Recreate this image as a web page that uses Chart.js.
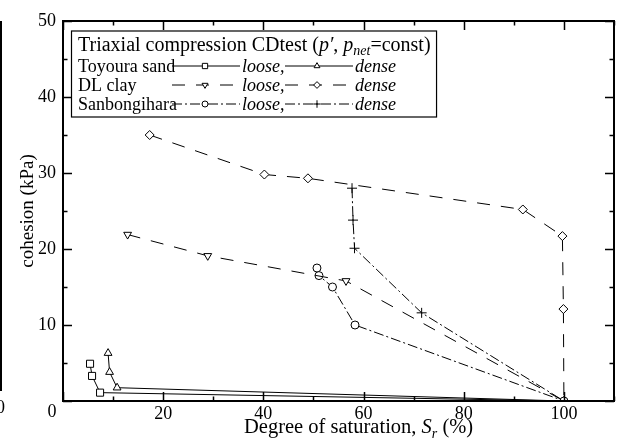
<!DOCTYPE html>
<html><head><meta charset="utf-8">
<script src="https://cdn.jsdelivr.net/npm/chart.js@4/dist/chart.umd.min.js"></script>
<style>html,body{margin:0;padding:0;background:#fff;}#wrap{width:620px;height:446px;position:relative;}</style>
</head><body><div id="wrap"><canvas id="c" width="620" height="446"></canvas></div>
<script>
const xTickLabels = [20, 40, 60, 80, 100];
const yTickLabels = [10, 20, 30, 40, 50];
const toyouraLooseSr = [5.4, 5.8, 7.4, 100];
const toyouraLooseC  = [4.9, 3.3, 1.1, 0];
const toyouraDenseSr = [9.0, 9.3, 10.8, 100];
const toyouraDenseC  = [6.3, 3.8, 1.75, 0];
const dlLooseSr = [12.9, 28.9, 56.5, 100];
const dlLooseC  = [21.9, 19.1, 15.8, 0];
const dlDenseSr = [17.3, 40.2, 48.9, 91.8, 99.7, 99.9, 100];
const dlDenseC  = [35.0, 29.8, 29.3, 25.2, 21.7, 12.1, 0];
const sbLooseSr = [50.7, 51.1, 53.8, 58.3, 100];
const sbLooseC  = [17.5, 16.5, 15.0, 10.0, 0];
const sbDenseSr = [57.7, 57.9, 58.2, 71.6, 100];
const sbDenseC  = [28.0, 23.8, 20.1, 11.6, 0];

const FONT = '"Liberation Serif", "Times New Roman", serif';
const pts = (xs, ys) => xs.map((x, i) => ({x: x, y: ys[i]}));
const hideLast = (r) => (c) => (c.dataIndex === c.dataset.data.length - 1 ? 0 : r);

function ds(label, xs, ys, style, radius, dash, rot, keepLast) {
  return {
    label: label, data: pts(xs, ys), showLine: true, tension: 0,
    borderColor: '#000', borderWidth: 1, borderDash: dash,
    pointStyle: style, pointRotation: rot || 0,
    pointRadius: keepLast ? radius : hideLast(radius),
    pointBackgroundColor: '#fff', pointBorderColor: '#000', pointBorderWidth: 1,
    legendRadius: radius * 0.75
  };
}
const DASH = [13, 11];
const DASHDOT = [10, 3, 2, 3];
const datasets = [
  ds('Toyoura loose', toyouraLooseSr, toyouraLooseC, 'rect', 5, [], 0, false),
  ds('Toyoura dense', toyouraDenseSr, toyouraDenseC, 'triangle', 4.5, [], 0, false),
  ds('DL loose', dlLooseSr, dlLooseC, 'triangle', 4.5, DASH, 180, false),
  ds('DL dense', dlDenseSr, dlDenseC, 'rectRot', 4.5, DASH, 0, false),
  ds('Sanbongihara loose', sbLooseSr, sbLooseC, 'circle', 4, DASHDOT, 0, true),
  ds('Sanbongihara dense', sbDenseSr, sbDenseC, 'cross', 5, DASHDOT, 0, true)
];

function drawRuns(ctx, x, y, runs, size) {
  let cx = x;
  runs.forEach(r => {
    const s = r.sub ? Math.round(size * 0.68) : size;
    ctx.font = (r.italic ? 'italic ' : '') + s + 'px ' + FONT;
    ctx.fillText(r.t, cx, y + (r.sub ? size * 0.22 : 0));
    cx += ctx.measureText(r.t).width;
  });
  return cx;
}

function sample(ctx, d, x1, x2, y, mx) {
  ctx.save();
  ctx.strokeStyle = '#000'; ctx.lineWidth = 1;
  ctx.setLineDash(d.borderDash || []);
  ctx.beginPath(); ctx.moveTo(x1, y); ctx.lineTo(x2, y); ctx.stroke();
  ctx.setLineDash([]);
  ctx.fillStyle = '#fff';
  Chart.helpers.drawPoint(ctx, {pointStyle: d.pointStyle, rotation: d.pointRotation, radius: d.legendRadius, borderWidth: 1}, mx, y);
  ctx.restore();
}

const framePlugin = {
  id: 'frame',
  afterDatasetsDraw(chart) {
    const ctx = chart.ctx, a = chart.chartArea;
    const xs = chart.scales.x, ys = chart.scales.y;
    ctx.save();
    ctx.strokeStyle = '#000';
    ctx.lineWidth = 1.5;
    xs.ticks.forEach(t => {
      const px = Math.round(xs.getPixelForValue(t.value)) + 0.5;
      const len = t.value % 20 === 0 ? 9 : 4.5;
      ctx.beginPath();
      ctx.moveTo(px, a.bottom); ctx.lineTo(px, a.bottom - len);
      ctx.moveTo(px, a.top); ctx.lineTo(px, a.top + len);
      ctx.stroke();
    });
    ys.ticks.forEach(t => {
      const py = Math.round(ys.getPixelForValue(t.value)) + 0.5;
      const len = t.value % 10 === 0 ? 9 : 4.5;
      ctx.beginPath();
      ctx.moveTo(a.left, py); ctx.lineTo(a.left + len, py);
      ctx.moveTo(a.right, py); ctx.lineTo(a.right - len, py);
      ctx.stroke();
    });
    ctx.lineWidth = 2;
    ctx.strokeRect(a.left, a.top, a.right - a.left, a.bottom - a.top);

    // legend
    const size = 18;
    ctx.fillStyle = '#000';
    ctx.textBaseline = 'alphabetic';
    ctx.textAlign = 'left';
    const lx = 78;
    const b = [51, 72, 91, 110];
    const titleRuns = [
      {t: 'Triaxial compression CDtest ('}, {t: 'p\u2032', italic: true}, {t: ', '},
      {t: 'p', italic: true}, {t: 'net', italic: true, sub: true}, {t: '=const)'}
    ];
    ctx.save(); ctx.globalAlpha = 0; const tEnd = drawRuns(ctx, lx, b[0], titleRuns, 20); ctx.restore();
    const boxL = 71.5, boxT = 31, boxR = tEnd + 6, boxB = 117;
    ctx.fillStyle = '#fff';
    ctx.fillRect(boxL, boxT, boxR - boxL, boxB - boxT);
    ctx.lineWidth = 1.2;
    ctx.strokeRect(boxL, boxT, boxR - boxL, boxB - boxT);
    ctx.fillStyle = '#000';
    drawRuns(ctx, lx, b[0], titleRuns, 20);
    const rows = [['Toyoura sand', 0, 1], ['DL clay', 2, 3], ['Sanbongihara', 4, 5]];
    rows.forEach((r, i) => {
      const y = b[i + 1];
      drawRuns(ctx, lx, y, [{t: r[0]}], size);
      const ly = y - 6;
      sample(ctx, datasets[r[1]], 172, 240, ly, 205);
      ctx.fillStyle = '#000';
      drawRuns(ctx, 242, y, [{t: 'loose,', italic: true}], size);
      sample(ctx, datasets[r[2]], 285, 353, ly, 317);
      ctx.fillStyle = '#000';
      drawRuns(ctx, 355, y, [{t: 'dense', italic: true}], size);
    });

    // axis titles
    drawRuns(ctx, 244, 433, [{t: 'Degree of saturation, '}, {t: 'S', italic: true}, {t: 'r', italic: true, sub: true}, {t: ' (%)'}], 20.5);
    ctx.save();
    ctx.translate(33, (a.top + a.bottom) / 2);
    ctx.rotate(-Math.PI / 2);
    ctx.textAlign = 'center';
    ctx.font = '19px ' + FONT;
    ctx.fillText('cohesion (kPa)', 0, 0);
    ctx.restore();
    // shared origin label
    ctx.font = size + 'px ' + FONT;
    ctx.textAlign = 'center';
    ctx.fillText('0', 52, 417);
    // edge of neighbouring panel
    ctx.lineWidth = 2;
    ctx.beginPath(); ctx.moveTo(1, a.top); ctx.lineTo(1, a.bottom - 10); ctx.stroke();
    ctx.textAlign = 'right';
    ctx.fillText('0', 5, 413);
    ctx.restore();
  }
};

new Chart(document.getElementById('c'), {
  type: 'scatter',
  data: {datasets: datasets},
  options: {
    responsive: false, animation: false, devicePixelRatio: 1,
    layout: {padding: {top: 21, right: 3, left: 0, bottom: 0}},
    plugins: {legend: {display: false}, tooltip: {enabled: false}},
    scales: {
      x: {
        type: 'linear', min: 0, max: 110,
        afterFit: s => { s.height = 45; },
        grid: {drawOnChartArea: false, drawTicks: false},
        border: {display: false},
        ticks: {stepSize: 10, autoSkip: false, maxRotation: 0, minRotation: 0, padding: 2, color: '#000',
          font: {family: FONT, size: 18},
          callback: v => (xTickLabels.includes(v) ? String(v) : '')}
      },
      y: {
        type: 'linear', min: 0, max: 50,
        afterFit: s => { s.width = 63; },
        grid: {drawOnChartArea: false, drawTicks: false},
        border: {display: false},
        ticks: {stepSize: 5, autoSkip: false, padding: 7, color: '#000',
          font: {family: FONT, size: 18},
          callback: v => (yTickLabels.includes(v) ? String(v) : '')}
      }
    }
  },
  plugins: [framePlugin]
});
</script></body></html>
